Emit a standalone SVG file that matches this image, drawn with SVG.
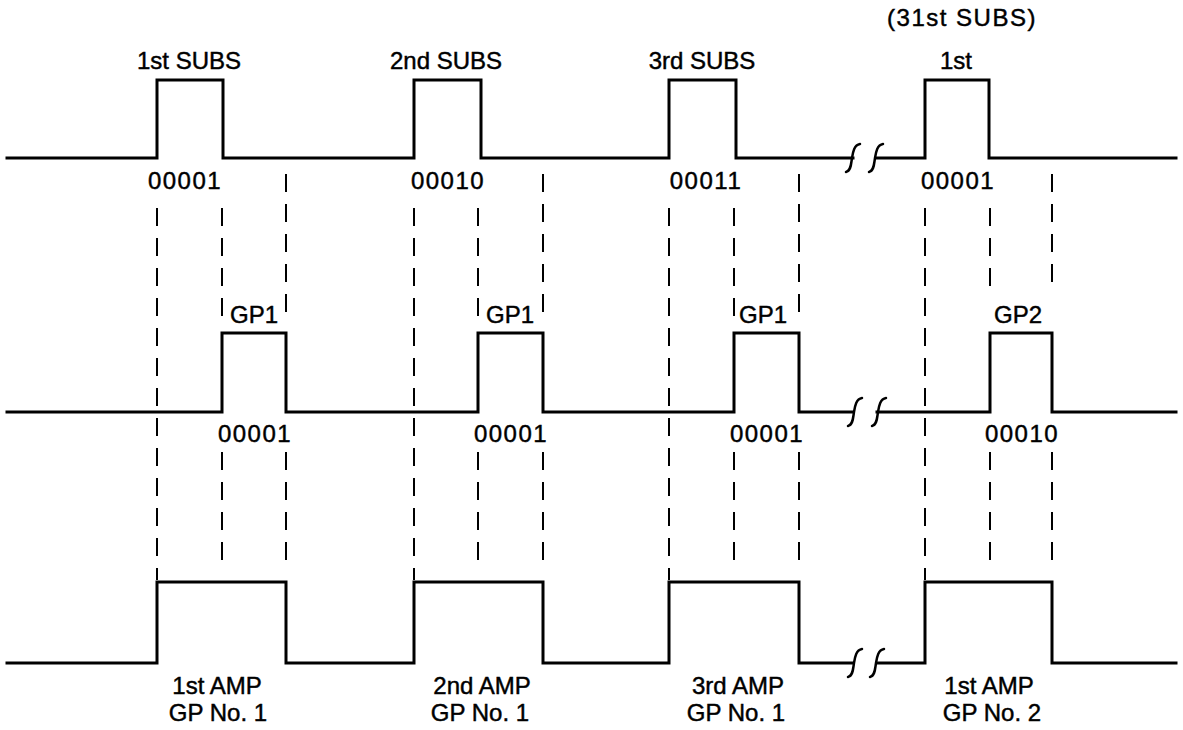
<svg xmlns="http://www.w3.org/2000/svg" xmlns:xlink="http://www.w3.org/1999/xlink" width="1183" height="730" viewBox="0 0 1183 730">
<style>
.wave{fill:none;stroke:#000;stroke-width:3;stroke-linejoin:miter;stroke-linecap:square}
.dash{fill:none;stroke:#000;stroke-width:2;stroke-dasharray:18 12}
.brk{fill:none;stroke:#000;stroke-width:2.5;stroke-linecap:round}
text{font-family:"Liberation Sans",Arial,sans-serif;font-size:24px;fill:#000;stroke:#000;stroke-width:0.45;text-anchor:middle}
.code{letter-spacing:1.5px}
</style>
<defs>
<path id="brk" class="brk" d="M-7,14 C-2,13 -2,6 -1,0 C0,-6 1,-13 7,-14"/>
</defs>
<rect width="1183" height="730" fill="#fff"/>
<g id="waveforms">
<path id="row1" class="wave" d="M7,158 H157 V80 H223 V158 H414 V80 H481 V158 H669 V80 H736 V158 H853 M877,158 H925 V80 H989 V158 H1176"/>
<path id="row2" class="wave" d="M7,412 H222 V333 H286 V412 H478 V333 H543 V412 H734 V333 H799 V412 H853 M877,412 H990 V333 H1052 V412 H1176"/>
<path id="row3" class="wave" d="M7,663 H157 V582 H286 V663 H414 V582 H543 V663 H669 V582 H799 V663 H853 M877,663 H925 V582 H1052 V663 H1176"/>
<use href="#brk" x="853" y="158"/><use href="#brk" x="876" y="158"/>
<use href="#brk" x="855" y="412"/><use href="#brk" x="879" y="412"/>
<use href="#brk" x="855" y="663"/><use href="#brk" x="877" y="663"/>
</g>
<g id="connectors">
<path class="dash" d="M157,208 V580 M222,208 V322 M222,452 V570 M286,174 V322 M286,452 V570"/>
<path class="dash" d="M414,208 V580 M478,208 V322 M478,452 V570 M543,174 V322 M543,452 V570"/>
<path class="dash" d="M669,208 V580 M734,208 V322 M734,452 V570 M799,174 V322 M799,452 V570"/>
<path class="dash" d="M925,208 V580 M990,208 V292 M990,452 V570 M1052,174 V292 M1052,452 V570"/>
</g>
<g id="labels-top">
<text x="189" y="69">1st SUBS</text>
<text x="446" y="69">2nd SUBS</text>
<text x="702" y="69">3rd SUBS</text>
<text x="962" y="26" style="letter-spacing:1.5px">(31st SUBS)</text>
<text x="956" y="69">1st</text>
</g>
<g id="labels-row1">
<text class="code" x="185" y="189">00001</text>
<text class="code" x="448" y="189">00010</text>
<text class="code" x="706" y="189">00011</text>
<text class="code" x="958" y="189">00001</text>
</g>
<g id="labels-row2">
<text x="254" y="323">GP1</text>
<text x="510" y="323">GP1</text>
<text x="763" y="323">GP1</text>
<text x="1018" y="323">GP2</text>
<text class="code" x="255" y="442">00001</text>
<text class="code" x="511" y="442">00001</text>
<text class="code" x="767" y="442">00001</text>
<text class="code" x="1022" y="442">00010</text>
</g>
<g id="labels-bottom">
<text x="217" y="694">1st AMP</text>
<text x="218" y="721">GP No. 1</text>
<text x="482" y="694">2nd AMP</text>
<text x="480" y="721">GP No. 1</text>
<text x="738" y="694">3rd AMP</text>
<text x="736" y="721">GP No. 1</text>
<text x="989" y="694">1st AMP</text>
<text x="992" y="721">GP No. 2</text>
</g>
</svg>
